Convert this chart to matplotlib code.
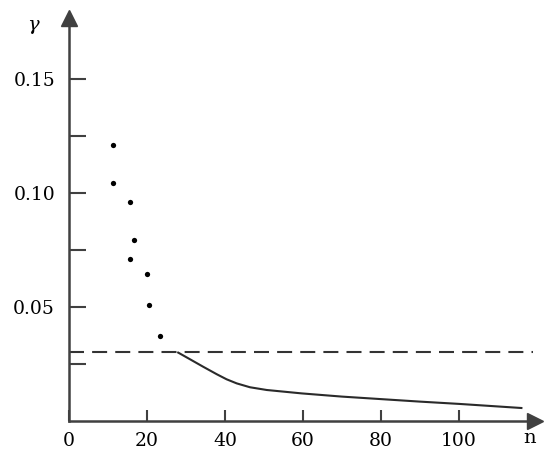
import matplotlib
matplotlib.use("Agg")
import matplotlib.pyplot as plt

# scattered points (upper left)
dot_n = [11.4, 11.4, 15.6, 16.7, 15.6, 19.9, 20.6, 23.3]
dot_gamma = [0.1211, 0.1043, 0.0961, 0.0794, 0.0711, 0.0644, 0.0507, 0.0374]

# solid curve
curve_n = [28.0, 31.0, 34.4, 37.9, 40.4, 43.0, 46.4, 50.7, 59.7, 70.0, 80.0, 90.0, 100.0, 116.0]
curve_gamma = [0.0300, 0.0271, 0.0238, 0.0205, 0.0183, 0.0165, 0.0148, 0.0136,
               0.0121, 0.0107, 0.0096, 0.0085, 0.0075, 0.0057]

# dashed threshold
threshold = 0.0303
threshold_end = 119.0

xticks = [0, 20, 40, 60, 80, 100]
xticklabels = ["0", "20", "40", "60", "80", "100"]
yticks = [0.025, 0.05, 0.075, 0.10, 0.125, 0.15]
yticklabels = ["", "0.05", "", "0.10", "", "0.15"]

AX = "#404040"
plt.rcParams["font.family"] = ["DejaVu Serif"]

fig = plt.figure(figsize=(5.5, 4.57), dpi=100)
ax = fig.add_axes([69/550, 36/457, 466/550, 403/457])
ax.set_xlim(0, 466/3.9)
ax.set_ylim(0, 403/2280)

for s in ("top", "right"):
    ax.spines[s].set_visible(False)
for s in ("left", "bottom"):
    ax.spines[s].set_color(AX)
    ax.spines[s].set_linewidth(1.8)

ax.set_xticks(xticks)
ax.set_xticklabels(xticklabels)
ax.set_yticks(yticks)
ax.set_yticklabels(yticklabels)
ax.tick_params(axis="y", direction="in", length=12, width=1.5, color=AX, pad=10, labelsize=13.5)
ax.tick_params(axis="x", direction="in", length=8, width=1.5, color=AX, pad=8, labelsize=13.5)

# axis arrows
ax.plot([0], [ax.get_ylim()[1]], marker="^", ms=12, color=AX, clip_on=False)
ax.plot([ax.get_xlim()[1]], [0], marker=">", ms=12, color=AX, clip_on=False)

ax.plot(dot_n, dot_gamma, "o", ms=3.8, color="black", mec="none")
ax.plot(curve_n, curve_gamma, color="#2a2a2a", lw=1.5)
ax.plot([0, threshold_end], [threshold, threshold], color="#333333", lw=1.5,
        linestyle=(0, (7.2, 3.9)))

fig.text(33/550, 1 - 25/457, "γ", fontstyle="italic", fontsize=14, ha="center", va="center")
fig.text(530/550, 1 - 438/457, "n", fontsize=14, ha="center", va="center")

fig.savefig("out.png", dpi=100, facecolor="white")
